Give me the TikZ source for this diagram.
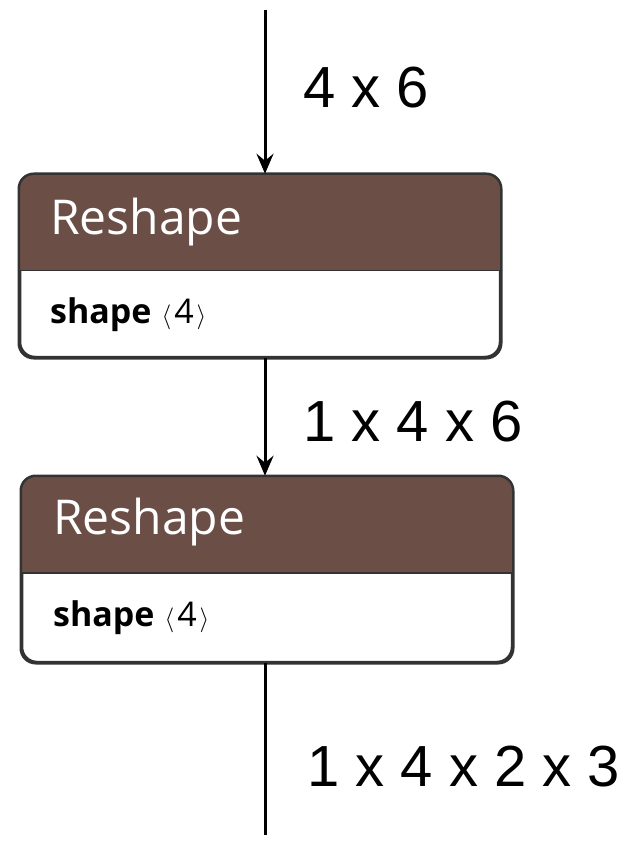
\documentclass[tikz,border=0pt]{standalone}
\usepackage{fontspec}
\setmainfont{Liberation Sans}
\newfontfamily\boxfont{Open Sans}
\usetikzlibrary{positioning,arrows.meta,calc}
\definecolor{hdbrown}{HTML}{6B4F46}
\definecolor{boxline}{HTML}{333333}
\tikzset{
  opbox/.style={draw=boxline,line width=2.5pt,rounded corners=15pt,fill=white,inner sep=0pt},
  dimlabel/.style={anchor=west,font=\fontsize{58}{62}\selectfont,inner sep=0pt},
  optitle/.style={anchor=west,text=white,font=\boxfont\fontsize{48}{52}\selectfont,inner sep=0pt},
  opattr/.style={anchor=west,font=\boxfont\fontsize{34}{38}\selectfont,inner sep=0pt},
  flow/.style={line width=3pt},
  flowarrow/.style={flow,-{Stealth[length=20pt,width=17pt,inset=7pt]}}
}
\newcommand{\shapeattr}{\textbf{shape}\hspace{10pt}$\big\langle$\hspace{3pt}4\hspace{3pt}$\big\rangle$}
\begin{document}
\begin{tikzpicture}[x=1pt,y=-1pt]
	\useasboundingbox (0,0) rectangle (638,866);
	% boxes
	\node (b1) [opbox,minimum width=480pt,minimum height=182pt] at (260,266) {};
	\node (b2) [opbox,minimum width=490pt,minimum height=185pt] at (267,569.5) {};
	% brown headers
	\begin{scope}
		\clip[rounded corners=15pt] (b1.north west) rectangle (b1.south east);
		\fill[hdbrown] (b1.north west) rectangle ($(b1.north east)+(0,97)$);
	\end{scope}
	\begin{scope}
		\clip[rounded corners=15pt] (b2.north west) rectangle (b2.south east);
		\fill[hdbrown] (b2.north west) rectangle ($(b2.north east)+(0,97)$);
	\end{scope}
	\draw[boxline,line width=1.5pt] ($(b1.north west)+(0,97)$) -- ($(b1.north east)+(0,97)$);
	\draw[boxline,line width=1.5pt] ($(b2.north west)+(0,97)$) -- ($(b2.north east)+(0,97)$);
	\draw[opbox,fill=none] (b1.north west) rectangle (b1.south east);
	\draw[opbox,fill=none] (b2.north west) rectangle (b2.south east);
	% texts
	\node (t1) [optitle] at (50,222) {Reshape};
	\node (a1) [opattr] at (50,315) {\shapeattr};
	\node (t2) [optitle] at (53,522) {Reshape};
	\node (a2) [opattr] at (53,618) {\shapeattr};
	% connectors
	\coordinate (in) at (265,10);
	\coordinate (out) at (265,835);
	\draw[flowarrow] (in) -- (in |- b1.north);
	\draw[flowarrow] (in |- b1.south) -- (in |- b2.north);
	\draw[flow] (in |- b2.south) -- (out);
	% dimensions
	\node (d1) [dimlabel] at (303,88) {4 x 6};
	\node (d2) [dimlabel] at (303,422) {1 x 4 x 6};
	\node (d3) [dimlabel] at (307,767) {1 x 4 x 2 x 3};
\end{tikzpicture}
\end{document}
